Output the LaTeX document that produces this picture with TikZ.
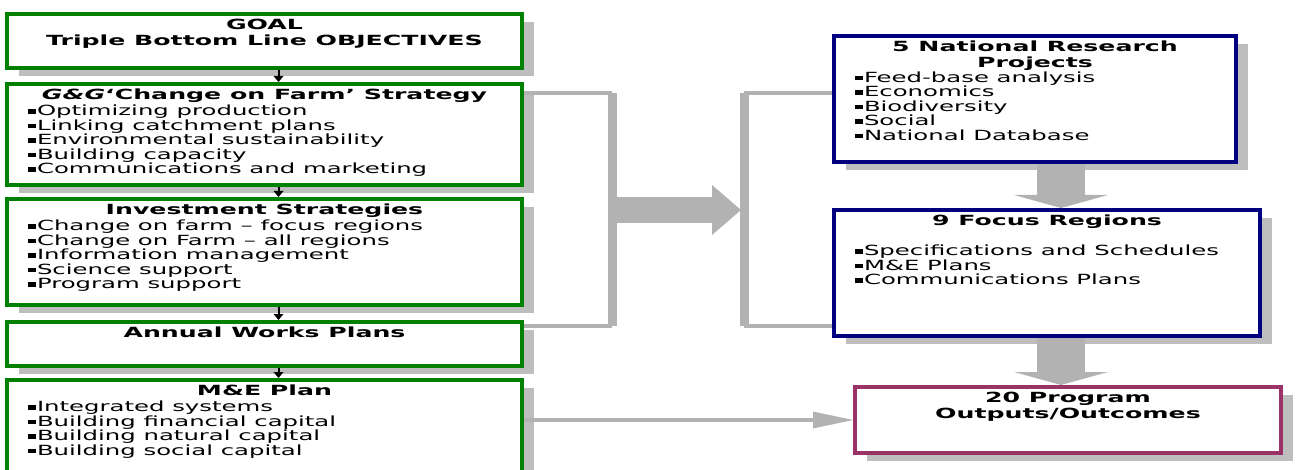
\documentclass[tikz,border=0pt]{standalone}
\usepackage{fontspec}
\setmainfont{DejaVu Sans}[FakeStretch=1.74]
\newfontfamily\hdfont{DejaVu Sans Bold}[FakeStretch=1.8,ItalicFont=DejaVu Sans Bold Oblique]
\usetikzlibrary{positioning,shadows,arrows.meta}
\definecolor{ggreen}{RGB}{0,128,0}
\definecolor{navy}{RGB}{0,0,128}
\definecolor{plum}{RGB}{153,51,102}
\definecolor{conn}{RGB}{178,178,178}
\definecolor{shade}{RGB}{190,190,190}
\newcommand{\bul}{\par\rule[2pt]{7.5pt}{4.5pt}\hspace{1.5pt}}
\newcommand{\card}[4]{\begin{minipage}[c][#1][t]{#2}\vspace*{1.5pt}%
  {\centering\hdfont\strut #3\par}\raggedright #4\end{minipage}}

\begin{document}
\begin{tikzpicture}[x=1pt,y=-1pt,
  font=\fontsize{14}{14.5}\selectfont,
  main box/.style={draw,line width=4pt,fill=white,inner xsep=21pt,inner ysep=3.5pt,
    anchor=north west,
    drop shadow={shadow xshift=12pt,shadow yshift=-8pt,fill=shade,opacity=1}},
  green node/.style={main box,draw=ggreen},
  blue node/.style={main box,draw=navy},
  plum node/.style={main box,draw=plum},
  link/.style={black,line width=2pt,-{Triangle[length=6pt 0 0,width=10pt 0 0,line width=0pt 0 0]}},
  feed/.style={conn,line width=4pt},
  bar/.style={conn,line width=9pt},
  fat arrow/.style={conn,line width=48pt,-{Triangle[length=13pt 0 0,width=94pt 0 0,line width=0pt 0 0]}}]

  \useasboundingbox (0,0) rectangle (1298,470);
  \clip (0,0) rectangle (1298,470);

  % left column
  \node[green node] (goal) at (5,12)
    {\card{47pt}{473pt}{GOAL\\Triple Bottom Line OBJECTIVES}{}};
  \node[green node,below=12pt of goal] (gg)
    {\card{94pt}{473pt}{\itshape G\&G\upshape‘Change on Farm’ Strategy}%
      {\bul Optimizing production\bul Linking catchment plans\bul Environmental sustainability%
       \bul Building capacity\bul Communications and marketing}};
  \node[green node,below=10pt of gg] (inv)
    {\card{99pt}{473pt}{Investment Strategies}%
      {\bul Change on farm – focus regions\bul Change on Farm – all regions%
       \bul Information management\bul Science support\bul Program support}};
  \node[green node,below=13pt of inv] (annual)
    {\card{37pt}{473pt}{Annual Works Plans}{}};
  \node[green node,below=10pt of annual] (mne)
    {\card{91pt}{473pt}{M\&E Plan}%
      {\bul Integrated systems\bul Building financial capital%
       \bul Building natural capital\bul Building social capital}};

  % right column
  \node[blue node] (nrp) at (832,34)
    {\card{119pt}{360pt}{5 National Research\\Projects}%
      {\bul Feed-base analysis\bul Economics\bul Biodiversity\bul Social\bul National Database}};
  \node[blue node] (fr) at (832,208)
    {\card{119pt}{384pt}{9 Focus Regions}%
      {\vspace{14pt}\bul Specifications and Schedules\bul M\&E Plans\bul Communications Plans}};
  \node[plum node] (prog) at (853,385)
    {\card{59pt}{384pt}{20 Program\\Outputs/Outcomes}{}};

  \path[link]
    ([xshift=14pt]goal.south) edge ([xshift=14pt]gg.north)
    ([xshift=14pt]gg.south) edge ([xshift=14pt]inv.north)
    ([xshift=14pt]inv.south) edge ([xshift=14pt]annual.north)
    ([xshift=14pt]annual.south) edge ([xshift=14pt]mne.north);

  % brackets
  \coordinate (lt) at (612,93);
  \coordinate (lb) at (612,326);
  \coordinate (rt) at (744,93);
  \coordinate (rb) at (744,326);
  \coordinate (jl) at (616,210);
  \coordinate (jr) at (741,210);
  \draw[feed] (lt -| gg.east) -- (lt);
  \draw[feed] (lb -| annual.east) -- (lb);
  \draw[bar] (lt) -- (lb);
  \draw[conn,line width=26pt,-{Triangle[length=29pt 0 0,width=50pt 0 0,line width=0pt 0 0]}] (jl) -- (jr);
  \draw[bar] (rt) -- (rb);
  \draw[feed] (rt) -- (rt -| nrp.west);
  \draw[feed] (rb) -- (rb -| fr.west);

  \draw[fat arrow] ([xshift=26pt]nrp.south) -- ([xshift=14pt]fr.north);
  \draw[fat arrow] ([xshift=14pt]fr.south) -- ([xshift=-7pt]prog.north);
  \draw[feed,-{Triangle[length=40pt 0 0,width=17pt 0 0,line width=0pt 0 0]}]
    (prog.west -| mne.east) -- (prog.west);
\end{tikzpicture}
\end{document}
